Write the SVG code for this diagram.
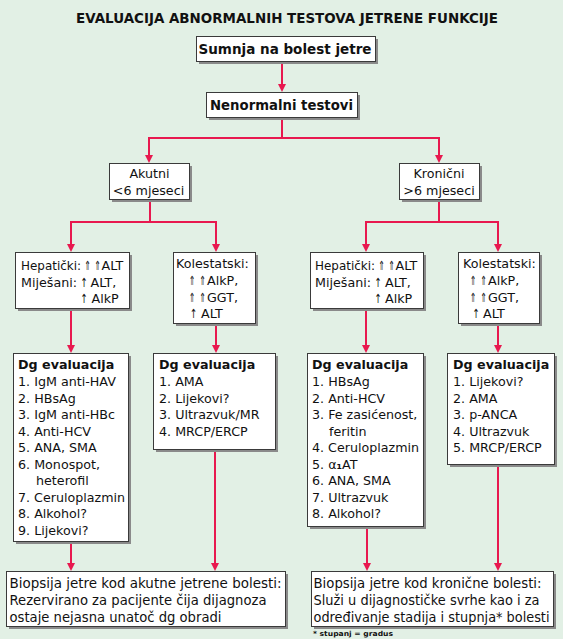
<svg xmlns="http://www.w3.org/2000/svg" width="563" height="639" viewBox="0 0 563 639">
<defs>
<style>
.bg{fill:#e2f0e5}
.box{fill:#ffffff;stroke:#3a3a3a;stroke-width:1}
.sh{fill:#8a8a8a}
.t{font-family:"DejaVu Sans",Verdana,sans-serif;font-size:12.7px;fill:#111}
.bt{font-family:"DejaVu Sans",Verdana,sans-serif;font-size:13.2px;fill:#111}
.b{font-weight:bold}
.ar{font-family:"DejaVu Sans",sans-serif;font-size:12.5px;fill:#111;text-anchor:middle}
.ar1{font-family:"DejaVu Sans",sans-serif;font-size:12.5px;fill:#111;text-anchor:middle}
.h{font-family:"DejaVu Sans",Verdana,sans-serif;font-size:13.7px;font-weight:bold;fill:#111}
.ttl{font-family:"DejaVu Sans",Verdana,sans-serif;font-size:13.3px;font-weight:bold;fill:#111}
.fn{font-family:"DejaVu Sans",Verdana,sans-serif;font-size:7px;font-weight:bold;fill:#111}
.c{fill:none;stroke:#e8194f;stroke-width:2}
.ah{fill:#e8194f}
</style>
</defs>
<rect class="bg" x="0" y="0" width="563" height="639"/>
<text class="ttl" x="76" y="23" textLength="422" lengthAdjust="spacingAndGlyphs">EVALUACIJA ABNORMALNIH TESTOVA JETRENE FUNKCIJE</text>

<g id="connectors">
<path class="c" d="M282,61 V86"/>
<path class="c" d="M282,117 V138 H149 V157"/>
<path class="c" d="M282,138 H439 V157"/>
<path class="c" d="M150,200 V222 H71 V246"/>
<path class="c" d="M150,222 H216 V246"/>
<path class="c" d="M439,200 V222 H366 V246"/>
<path class="c" d="M439,222 H498 V246"/>
<path class="c" d="M71,308 V347"/>
<path class="c" d="M216,323 V347"/>
<path class="c" d="M366,308 V347"/>
<path class="c" d="M498,323 V347"/>
<path class="c" d="M71,541 V565"/>
<path class="c" d="M215,449 V565"/>
<path class="c" d="M367,526 V565"/>
<path class="c" d="M498,464 V565"/>
<path class="ah" d="M278,84 L286,84 L282,92 Z"/>
<path class="ah" d="M145,155 L153,155 L149,163 Z"/>
<path class="ah" d="M435,155 L443,155 L439,163 Z"/>
<path class="ah" d="M67,244 L75,244 L71,252 Z"/>
<path class="ah" d="M212,244 L220,244 L216,252 Z"/>
<path class="ah" d="M362,244 L370,244 L366,252 Z"/>
<path class="ah" d="M494,244 L502,244 L498,252 Z"/>
<path class="ah" d="M67,345 L75,345 L71,353 Z"/>
<path class="ah" d="M212,345 L220,345 L216,353 Z"/>
<path class="ah" d="M362,345 L370,345 L366,353 Z"/>
<path class="ah" d="M494,345 L502,345 L498,353 Z"/>
<path class="ah" d="M67,563 L75,563 L71,571 Z"/>
<path class="ah" d="M211,563 L219,563 L215,571 Z"/>
<path class="ah" d="M363,563 L371,563 L367,571 Z"/>
<path class="ah" d="M494,563 L502,563 L498,571 Z"/>
</g>

<g id="n1">
<rect class="sh" x="199" y="39" width="179" height="25"/>
<rect class="box" x="196.5" y="36.5" width="179" height="25"/>
<text class="h" x="198.5" y="54" textLength="173" lengthAdjust="spacingAndGlyphs">Sumnja na bolest jetre</text>
</g>
<g id="n2">
<rect class="sh" x="209" y="95" width="151" height="25"/>
<rect class="box" x="206.5" y="92.5" width="151" height="25"/>
<text class="h" x="210" y="110" textLength="143" lengthAdjust="spacingAndGlyphs">Nenormalni testovi</text>
</g>
<g id="akutni">
<rect class="sh" x="112" y="166" width="80" height="36"/>
<rect class="box" x="109.5" y="163.5" width="80" height="36"/>
<text class="t" x="149.5" y="178" text-anchor="middle">Akutni</text>
<text class="t" x="148.5" y="195" text-anchor="middle">&lt;6 mjeseci</text>
</g>
<g id="kronicni">
<rect class="sh" x="402" y="166" width="80" height="36"/>
<rect class="box" x="399.5" y="163.5" width="80" height="36"/>
<text class="t" x="439" y="178" text-anchor="middle">Kronični</text>
<text class="t" x="439" y="195" text-anchor="middle">&gt;6 mjeseci</text>
</g>
<g id="hep-akutni">
<rect class="sh" x="18" y="255" width="114" height="56"/>
<rect class="box" x="15.5" y="252.5" width="114" height="56"/>
<text class="t" x="21" y="270" textLength="60" lengthAdjust="spacingAndGlyphs">Hepatički:</text>
<text class="ar" transform="translate(87.5,270) scale(0.62,1)">⇑</text>
<text class="ar" transform="translate(97.5,270) scale(0.62,1)">⇑</text>
<text class="t" x="101.5" y="270">ALT</text>
<text class="t" x="21" y="287">Miješani:</text>
<text class="ar1" transform="translate(84,287) scale(0.7,1)">↑</text>
<text class="t" x="90.5" y="287">ALT,</text>
<text class="ar1" transform="translate(84,303) scale(0.7,1)">↑</text>
<text class="t" x="91.5" y="303">AlkP</text>
</g>
<g id="kol-akutni">
<rect class="sh" x="176" y="255" width="82" height="71"/>
<rect class="box" x="173.5" y="252.5" width="82" height="71"/>
<text class="t" x="176" y="268">Kolestatski:</text>
<text class="ar" transform="translate(192,285) scale(0.62,1)">⇑</text>
<text class="ar" transform="translate(202.5,285) scale(0.62,1)">⇑</text>
<text class="t" x="207" y="285">AlkP,</text>
<text class="ar" transform="translate(192,302) scale(0.62,1)">⇑</text>
<text class="ar" transform="translate(202.5,302) scale(0.62,1)">⇑</text>
<text class="t" x="207" y="302">GGT,</text>
<text class="ar1" transform="translate(193.5,318) scale(0.7,1)">↑</text>
<text class="t" x="201" y="318">ALT</text>
</g>
<g id="hep-kronicni">
<rect class="sh" x="313" y="255" width="113" height="56"/>
<rect class="box" x="310.5" y="252.5" width="113" height="56"/>
<text class="t" x="315" y="270" textLength="60" lengthAdjust="spacingAndGlyphs">Hepatički:</text>
<text class="ar" transform="translate(381.5,270) scale(0.62,1)">⇑</text>
<text class="ar" transform="translate(391.5,270) scale(0.62,1)">⇑</text>
<text class="t" x="395.5" y="270">ALT</text>
<text class="t" x="315" y="287">Miješani:</text>
<text class="ar1" transform="translate(378,287) scale(0.7,1)">↑</text>
<text class="t" x="385" y="287">ALT,</text>
<text class="ar1" transform="translate(378,303) scale(0.7,1)">↑</text>
<text class="t" x="385" y="303">AlkP</text>
</g>
<g id="kol-kronicni">
<rect class="sh" x="461" y="255" width="81" height="71"/>
<rect class="box" x="458.5" y="252.5" width="81" height="71"/>
<text class="t" x="463" y="268">Kolestatski:</text>
<text class="ar" transform="translate(473,285) scale(0.62,1)">⇑</text>
<text class="ar" transform="translate(483.5,285) scale(0.62,1)">⇑</text>
<text class="t" x="488" y="285">AlkP,</text>
<text class="ar" transform="translate(473,302) scale(0.62,1)">⇑</text>
<text class="ar" transform="translate(483.5,302) scale(0.62,1)">⇑</text>
<text class="t" x="488" y="302">GGT,</text>
<text class="ar1" transform="translate(476,318) scale(0.7,1)">↑</text>
<text class="t" x="483" y="318">ALT</text>
</g>
<g id="dg-hep-akutni">
<rect class="sh" x="16" y="356" width="115" height="188"/>
<rect class="box" x="13.5" y="353.5" width="115" height="188"/>
<text class="t b" x="18" y="369">Dg evaluacija</text>
<text class="t" x="18" y="386">1. IgM anti-HAV</text>
<text class="t" x="18" y="402.5">2. HBsAg</text>
<text class="t" x="18" y="419">3. IgM anti-HBc</text>
<text class="t" x="18" y="435.5">4. Anti-HCV</text>
<text class="t" x="18" y="452">5. ANA, SMA</text>
<text class="t" x="18" y="468.5">6. Monospot,</text>
<text class="t" x="36" y="485">heterofil</text>
<text class="t" x="18" y="501.5" textLength="107" lengthAdjust="spacingAndGlyphs">7. Ceruloplazmin</text>
<text class="t" x="18" y="518">8. Alkohol?</text>
<text class="t" x="18" y="534.5">9. Lijekovi?</text>
</g>
<g id="dg-kol-akutni">
<rect class="sh" x="156" y="356" width="122" height="96"/>
<rect class="box" x="153.5" y="353.5" width="122" height="96"/>
<text class="t b" x="159" y="369">Dg evaluacija</text>
<text class="t" x="159" y="386">1. AMA</text>
<text class="t" x="159" y="402.5">2. Lijekovi?</text>
<text class="t" x="159" y="419">3. Ultrazvuk/MR</text>
<text class="t" x="159" y="435.5">4. MRCP/ERCP</text>
</g>
<g id="dg-hep-kronicni">
<rect class="sh" x="310" y="356" width="116" height="173"/>
<rect class="box" x="307.5" y="353.5" width="116" height="173"/>
<text class="t b" x="312" y="369">Dg evaluacija</text>
<text class="t" x="312" y="386">1. HBsAg</text>
<text class="t" x="312" y="402.5">2. Anti-HCV</text>
<text class="t" x="312" y="419">3. Fe zasićenost,</text>
<text class="t" x="329" y="435.5">feritin</text>
<text class="t" x="312" y="452" textLength="107" lengthAdjust="spacingAndGlyphs">4. Ceruloplazmin</text>
<text class="t" x="312" y="468.5">5. α<tspan font-weight="bold">₁</tspan>AT</text>
<text class="t" x="312" y="485">6. ANA, SMA</text>
<text class="t" x="312" y="501.5">7. Ultrazvuk</text>
<text class="t" x="312" y="518">8. Alkohol?</text>
</g>
<g id="dg-kol-kronicni">
<rect class="sh" x="450" y="356" width="107" height="111"/>
<rect class="box" x="447.5" y="353.5" width="107" height="111"/>
<text class="t b" x="453" y="369">Dg evaluacija</text>
<text class="t" x="453" y="386">1. Lijekovi?</text>
<text class="t" x="453" y="402.5">2. AMA</text>
<text class="t" x="453" y="419">3. p-ANCA</text>
<text class="t" x="453" y="435.5">4. Ultrazvuk</text>
<text class="t" x="453" y="452">5. MRCP/ERCP</text>
</g>
<g id="biopsija-akutna">
<rect class="sh" x="9" y="574" width="279" height="55"/>
<rect class="box" x="6.5" y="571.5" width="279" height="55"/>
<text class="bt" x="9.5" y="588" textLength="272" lengthAdjust="spacingAndGlyphs">Biopsija jetre kod akutne jetrene bolesti:</text>
<text class="bt" x="9.5" y="605" textLength="257" lengthAdjust="spacingAndGlyphs">Rezervirano za pacijente čija dijagnoza</text>
<text class="bt" x="9.5" y="621.5" textLength="212" lengthAdjust="spacingAndGlyphs">ostaje nejasna unatoč dg obradi</text>
</g>
<g id="biopsija-kronicna">
<rect class="sh" x="314" y="574" width="242" height="55"/>
<rect class="box" x="311.5" y="571.5" width="242" height="55"/>
<text class="bt" x="313.5" y="588" textLength="228" lengthAdjust="spacingAndGlyphs">Biopsija jetre kod kronične bolesti:</text>
<text class="bt" x="313.5" y="605" textLength="226" lengthAdjust="spacingAndGlyphs">Služi u dijagnostičke svrhe kao i za</text>
<text class="bt" x="313.5" y="621.5" textLength="236" lengthAdjust="spacingAndGlyphs">određivanje stadija i stupnja* bolesti</text>
</g>
<text class="fn" x="313" y="636" textLength="80" lengthAdjust="spacingAndGlyphs">* stupanj = gradus</text>
</svg>
